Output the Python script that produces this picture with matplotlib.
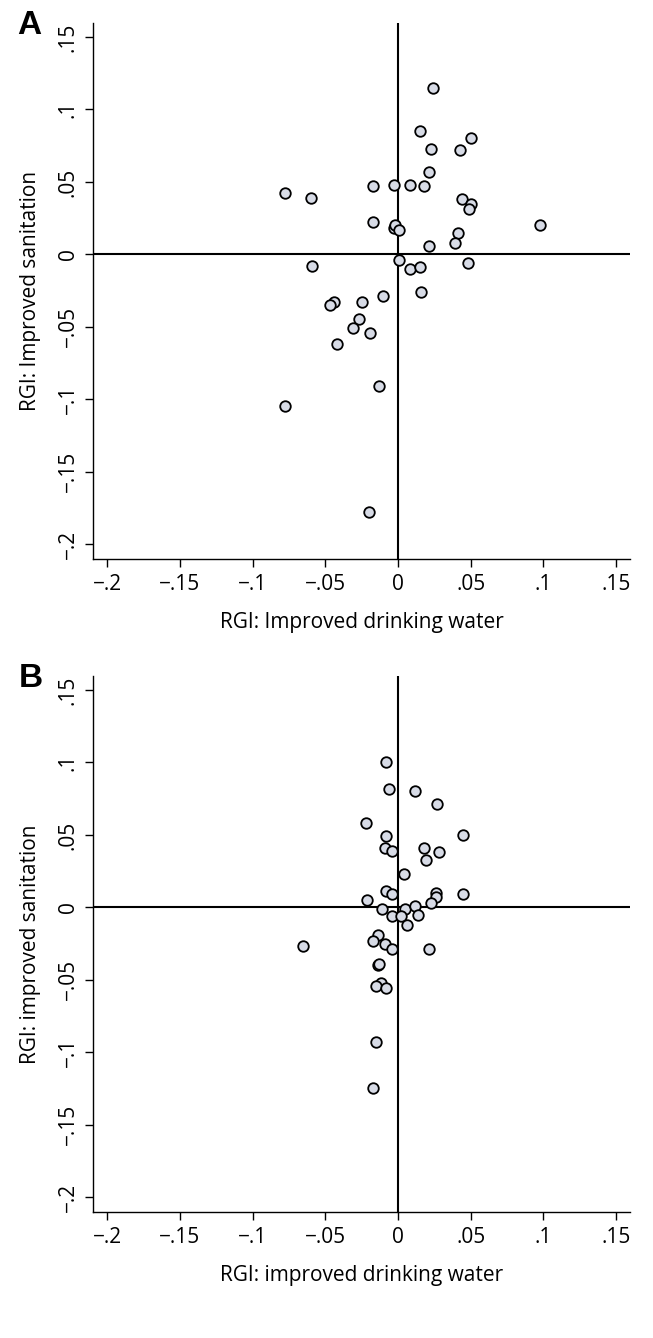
#!/usr/bin/env python3

"""
RGI scatter: improved sanitation vs improved drinking water (panels A and B)
"""

import matplotlib
matplotlib.use("Agg")
import matplotlib.pyplot as plt

# Panel A values
a_water = [0.024, 0.015, 0.050, 0.023, 0.043, 0.021, -0.017, -0.003, 0.008, 0.018,
           -0.078, -0.060, 0.044, 0.050, 0.049, -0.017, -0.003, -0.002, 0.001, 0.098,
           0.041, 0.039, 0.021, 0.001, -0.059, 0.008, 0.015, 0.048, 0.016, -0.010,
           -0.025, -0.044, -0.047, -0.027, -0.031, -0.019, -0.042, -0.013, -0.078, -0.020]
a_sanit = [0.115, 0.085, 0.080, 0.073, 0.072, 0.057, 0.047, 0.048, 0.048, 0.047,
           0.042, 0.039, 0.038, 0.035, 0.031, 0.022, 0.018, 0.020, 0.017, 0.020,
           0.015, 0.008, 0.006, -0.004, -0.008, -0.010, -0.009, -0.006, -0.026, -0.029,
           -0.033, -0.033, -0.035, -0.045, -0.051, -0.054, -0.062, -0.091, -0.105, -0.178]

# Panel B values
b_water = [-0.008, -0.006, 0.012, 0.027, -0.022, 0.045, -0.008, -0.009, -0.004, 0.018,
           0.028, 0.019, 0.004, -0.008, -0.004, -0.021, 0.026, 0.026, 0.045, 0.023,
           -0.011, 0.005, 0.012, -0.004, 0.002, 0.014, 0.006, -0.014, -0.017, -0.065,
           -0.009, -0.004, 0.021, -0.014, -0.013, -0.012, -0.015, -0.008, -0.015, -0.017]
b_sanit = [0.100, 0.082, 0.080, 0.071, 0.058, 0.050, 0.049, 0.041, 0.039, 0.041,
           0.038, 0.033, 0.023, 0.011, 0.009, 0.005, 0.010, 0.007, 0.009, 0.003,
           -0.001, -0.001, 0.001, -0.006, -0.006, -0.005, -0.012, -0.019, -0.023, -0.027,
           -0.025, -0.029, -0.029, -0.040, -0.039, -0.052, -0.054, -0.056, -0.093, -0.125]

tick_values = [-0.2, -0.15, -0.1, -0.05, 0, 0.05, 0.1, 0.15]
tick_labels = ["\u2212.2", "\u2212.15", "\u2212.1", "\u2212.05", "0", ".05", ".1", ".15"]

W, H = 653, 1338
FONT = "Open Sans"
FS = 15


def draw_panel(ax, xs, ys, xlabel, ylabel):
    ax.axhline(0, color="black", lw=1.5, zorder=1)
    ax.axvline(0, color="black", lw=1.5, zorder=1)
    ax.plot(xs, ys, "o", ms=7.6, mfc="#d7dbe6", mec="black", mew=1.3,
            ls="none", zorder=3)

    ax.set_xlim(-0.2098, 0.1596)
    ax.set_ylim(-0.2106, 0.1595)

    for side in ("top", "right"):
        ax.spines[side].set_visible(False)
    for side in ("left", "bottom"):
        ax.spines[side].set_linewidth(1.0)

    ax.set_xticks(tick_values)
    ax.set_xticklabels(tick_labels, family=FONT, fontsize=FS)
    ax.set_yticks(tick_values)
    ax.set_yticklabels(tick_labels, family=FONT, fontsize=FS,
                       rotation=90, va="center")
    ax.tick_params(length=5.8, width=1.0, direction="out")
    ax.tick_params(axis="x", pad=5)
    ax.tick_params(axis="y", pad=4.5)

    ax.set_xlabel(xlabel, family=FONT, fontsize=FS)
    ax.set_ylabel(ylabel, family=FONT, fontsize=FS)
    ax.xaxis.set_label_coords(0.5, -0.098)
    ax.yaxis.set_label_coords(-0.097, 0.5)


if __name__ == "__main__":
    fig = plt.figure(figsize=(W / 100, H / 100), dpi=100)

    left = 93 / W
    width = 537 / W
    height = 536 / H
    ax_a = fig.add_axes([left, 1 - 559.3 / H, width, height])
    ax_b = fig.add_axes([left, 1 - 1212.3 / H, width, height])

    draw_panel(ax_a, a_water, a_sanit,
               "RGI: Improved drinking water", "RGI: Improved sanitation")
    draw_panel(ax_b, b_water, b_sanit,
               "RGI: improved drinking water", "RGI: improved sanitation")

    fig.text(17 / W, 1 - 34 / H, "A", family="Liberation Sans",
             fontweight="bold", fontsize=24, va="baseline")
    fig.text(19 / W, 1 - 687 / H, "B", family="Liberation Sans",
             fontweight="bold", fontsize=24, va="baseline")

    fig.savefig("out.png", dpi=100)
